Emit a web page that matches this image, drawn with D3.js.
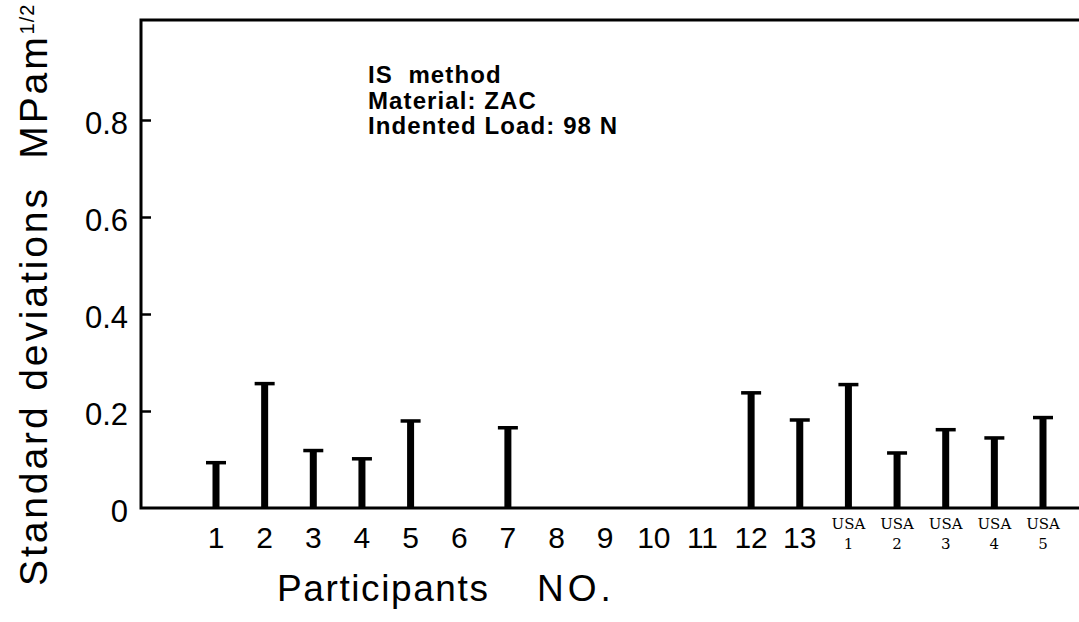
<!DOCTYPE html>
<html>
<head>
<meta charset="utf-8">
<script src="https://cdn.jsdelivr.net/npm/d3@7"></script>
<style>
  body { margin: 0; background: #fff; }
  svg { display: block; }
</style>
</head>
<body>
<svg id="chart"></svg>
<script>
// participants and their standard deviations (null = no result)
const participants = ['1','2','3','4','5','6','7','8','9','10','11','12','13','USA 1','USA 2','USA 3','USA 4','USA 5'];
const stdDevs = [0.095, 0.258, 0.12, 0.103, 0.181, null, 0.167, null, null, null, null, 0.239, 0.183, 0.256, 0.115, 0.163, 0.146, 0.188];
const yTicks = [0, 0.2, 0.4, 0.6, 0.8];
const noteLines = ['IS  method', 'Material: ZAC', 'Indented Load: 98 N'];

const W = 1079, H = 622;
const margin = {top: 20, right: 0, bottom: 114, left: 141};
const width = W - margin.left - margin.right;
const height = H - margin.top - margin.bottom;
const sans = 'Liberation Sans, Arial, sans-serif';

const svg = d3.select('#chart').attr('width', W).attr('height', H);
const g = svg.append('g').attr('transform', 'translate(' + margin.left + ',' + margin.top + ')');

const data = participants.map((p, i) => ({name: p, value: stdDevs[i]}));

const x = d3.scalePoint()
  .domain(participants)
  .range([75, 902]);

const y = d3.scaleLinear()
  .domain([0, 1])
  .range([height, 3]);

// frame: left, top, bottom
g.append('path')
  .attr('d', 'M' + width + ',0H0V' + height + 'H' + width)
  .attr('fill', 'none')
  .attr('stroke', '#000')
  .attr('stroke-width', 3);

// y axis
const yAxis = d3.axisLeft(y)
  .tickValues(yTicks)
  .tickSize(-10)
  .tickPadding(13)
  .tickFormat(d => d === 0 ? '0' : d3.format('.1f')(d));

const ya = g.append('g').call(yAxis);
ya.select('.domain').remove();
ya.selectAll('.tick line').attr('stroke-width', 2.5).filter(d => d === 0).remove();
ya.selectAll('.tick text')
  .attr('font-family', sans)
  .attr('font-size', 31)
  .attr('fill', '#000')
  .attr('dy', '0.45em');

// bars drawn as thick I-beams
const bars = g.append('g')
  .selectAll('g')
  .data(data.filter(d => d.value !== null))
  .enter().append('g')
    .attr('transform', d => 'translate(' + x(d.name) + ',0)');

bars.append('rect')
  .attr('x', -3.5)
  .attr('width', 7)
  .attr('y', d => y(d.value))
  .attr('height', d => height - y(d.value))
  .attr('fill', '#000');

bars.append('rect')
  .attr('x', -10)
  .attr('width', 20)
  .attr('y', d => y(d.value) - 1)
  .attr('height', 3.5)
  .attr('fill', '#000');

// x labels
const xl = g.append('g')
  .selectAll('text')
  .data(participants)
  .enter().append('text')
    .attr('x', d => x(d))
    .attr('text-anchor', 'middle')
    .attr('fill', '#000');

xl.filter(d => !d.startsWith('USA'))
  .attr('y', height + 40)
  .attr('font-family', sans)
  .attr('font-size', 30)
  .text(d => d);

const usa = xl.filter(d => d.startsWith('USA'))
  .attr('font-family', 'DejaVu Serif, serif')
  .attr('font-size', 15);
usa.append('tspan')
  .attr('x', d => x(d))
  .attr('y', height + 21)
  .text('USA');
usa.append('tspan')
  .attr('x', d => x(d))
  .attr('y', height + 41)
  .text(d => d.split(' ')[1]);

// axis titles
const xt = svg.append('text')
  .attr('y', 601)
  .attr('font-family', sans)
  .attr('font-size', 37)
  .attr('fill', '#000');
xt.append('tspan').attr('x', 277).attr('letter-spacing', 1.6).text('Participants');
xt.append('tspan').attr('x', 537).attr('letter-spacing', 4).text('NO.');

const yt = svg.append('text')
  .attr('transform', 'translate(47,586) rotate(-90)')
  .attr('font-family', sans)
  .attr('font-size', 39)
  .attr('letter-spacing', 2.9)
  .attr('fill', '#000')
  .style('white-space', 'pre');
yt.append('tspan').text('Standard deviations  MPam');
yt.append('tspan')
  .attr('font-size', 20)
  .attr('dy', -13)
  .attr('letter-spacing', 1)
  .text('1/2');

// method note
svg.append('g')
  .selectAll('text')
  .data(noteLines)
  .enter().append('text')
    .attr('x', 368)
    .attr('y', (d, i) => 83 + i * 25.5)
    .attr('font-family', sans)
    .attr('font-weight', 'bold')
    .attr('font-size', 24)
    .attr('letter-spacing', 1.1)
    .attr('fill', '#000')
    .style('white-space', 'pre')
    .text(d => d);
</script>
</body>
</html>
